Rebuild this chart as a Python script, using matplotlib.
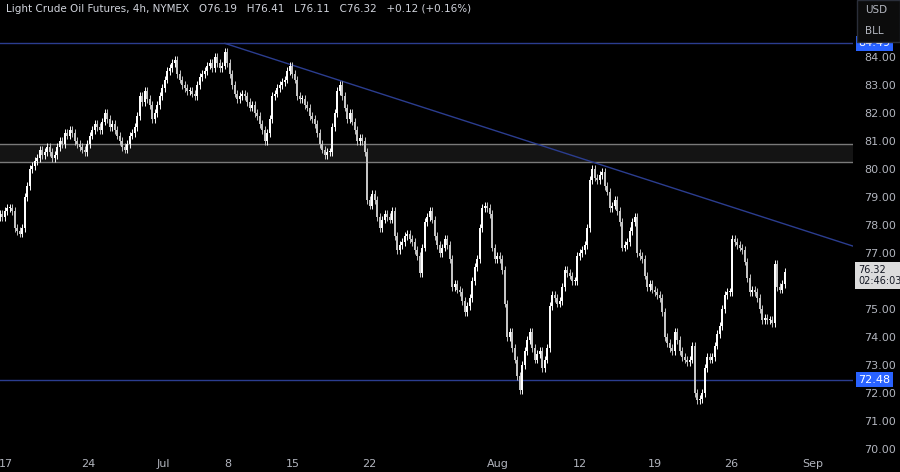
import matplotlib
matplotlib.use("Agg")
import matplotlib.pyplot as plt
from matplotlib.patches import Rectangle

STEP = 2.5
closes = [
78.4,78.3,78.5,78.6,78.6,78.5,77.9,77.8,77.7,77.9,
79.0,79.4,80.0,80.1,80.3,80.4,80.7,80.5,80.6,80.8,
80.6,80.4,80.5,80.8,81.0,80.9,81.3,81.2,81.4,81.3,
81.0,80.9,80.8,80.7,80.6,80.9,81.2,81.4,81.6,81.5,
81.4,81.7,82.0,81.8,81.5,81.6,81.4,81.2,81.0,80.8,
80.7,80.9,81.2,81.3,81.5,81.9,82.6,82.4,82.8,82.5,
82.3,81.8,82.0,82.3,82.6,82.9,83.2,83.5,83.6,83.8,
83.9,83.4,83.2,83.0,82.9,82.8,82.8,82.7,82.6,83.0,
83.3,83.4,83.5,83.7,83.8,83.6,84.0,83.8,83.6,83.7,
84.2,83.8,83.4,83.0,82.7,82.5,82.6,82.7,82.6,82.4,
82.2,82.3,82.0,81.9,81.6,81.4,81.0,81.3,81.8,82.6,
82.7,82.9,83.0,83.1,83.2,83.5,83.7,83.4,83.2,82.6,
82.5,82.5,82.3,82.2,81.9,81.8,81.6,81.3,80.9,80.7,
80.5,80.6,80.6,81.5,82.0,82.8,83.0,82.6,82.2,81.8,
82.0,81.7,81.4,81.0,81.1,81.0,80.6,78.9,78.7,79.1,
78.9,78.3,77.9,78.2,78.4,78.3,78.2,78.5,77.6,77.1,
77.3,77.4,77.6,77.7,77.5,77.4,77.1,76.9,76.3,77.2,
78.1,78.3,78.5,78.2,77.6,77.3,77.0,77.2,77.5,77.3,
76.8,75.8,75.9,75.7,75.6,75.3,74.9,75.1,75.4,76.0,
76.5,76.8,77.9,78.6,78.7,78.6,78.4,77.2,76.8,76.9,
76.8,76.4,75.2,74.0,74.2,73.6,73.2,72.6,72.1,73.0,
73.5,73.9,74.2,73.6,73.2,73.4,73.5,72.9,73.2,73.6,
75.1,75.5,75.4,75.2,75.3,75.8,76.4,76.3,76.2,76.0,
76.0,76.9,77.0,77.1,77.3,77.9,79.6,80.0,79.7,79.6,
79.8,79.9,79.4,79.2,78.6,78.7,78.9,78.5,78.1,77.2,
77.3,77.4,77.8,78.1,78.3,77.0,76.9,76.8,76.2,75.8,
75.9,75.7,75.6,75.5,75.4,74.9,74.0,73.8,73.6,73.5,
74.2,73.9,73.5,73.3,73.2,73.1,73.2,73.7,72.0,71.75,
71.8,72.0,72.9,73.3,73.2,73.3,73.7,74.1,74.4,75.0,
75.5,75.6,75.6,77.5,77.4,77.3,77.2,77.1,76.7,76.1,
75.6,75.7,75.6,75.4,75.0,74.6,74.7,74.6,74.6,74.5,
76.6,75.8,75.7,75.9,76.32]
first_open = 78.3
wick = 0.14

tick_pos = [6, 88, 163, 228, 293, 369, 498, 580, 655, 731, 813]
tick_lbl = ["17", "24", "Jul", "8", "15", "22", "Aug", "12", "19", "26", "Sep"]
price_ticks = [70, 71, 72, 73, 74, 75, 77, 78, 79, 80, 81, 82, 83, 84]
top_level, bottom_level = 84.49, 72.48
zone = (80.25, 80.9)
trend = ((225, 84.49), (853, 77.25))
last_price = 76.32

W, H = 900, 472
fig = plt.figure(figsize=(9, 4.72), dpi=100, facecolor="black")
ax = fig.add_axes([0, 17 / H, 853 / W, 455 / H], facecolor="black")
ax.set_xlim(0, 853)
ax.set_ylim(69.79, 86.04)

ax.add_patch(Rectangle((0, zone[0]), 853, zone[1] - zone[0], color="#141414", lw=0, zorder=1))
for z in zone:
    ax.axhline(z, color="#7a7a7a", lw=1, zorder=2)
ax.axhline(top_level, color="#2b3d8f", lw=1, zorder=2)
ax.axhline(bottom_level, color="#2b3d8f", lw=1, zorder=2)
ax.plot([trend[0][0], trend[1][0]], [trend[0][1], trend[1][1]], color="#2b3d8f", lw=1, zorder=2)

prev = first_open
for i, c in enumerate(closes):
    o = prev
    x = i * STEP
    hi = max(o, c) + wick
    lo = min(o, c) - wick
    col = "#ffffff" if c >= o else "#c4c4c4"
    ax.vlines(x, lo, hi, color=col, lw=0.7, zorder=3)
    b = max(abs(c - o), 0.03)
    ax.add_patch(Rectangle((x - 1.0, min(o, c)), 2.0, b, color=col, lw=0, zorder=4))
    prev = c

for s in ax.spines.values():
    s.set_visible(False)
ax.set_xticks(tick_pos)
ax.set_xticklabels(tick_lbl)
ax.tick_params(axis="x", length=0, colors="#b2b5be", labelsize=8, pad=3)
ax.yaxis.tick_right()
ax.set_yticks(price_ticks)
ax.set_yticklabels([f"{p:.2f}" for p in price_ticks])
ax.tick_params(axis="y", length=0, colors="#b2b5be", labelsize=8, pad=8)

def tag(price, txt, fc, tc):
    ax.text(858.5, price, txt, transform=ax.transData, fontsize=8, color=tc, va="center",
            ha="left", clip_on=False, zorder=10,
            bbox=dict(boxstyle="square,pad=0.25", fc=fc, ec="none"))

tag(bottom_level, f"{bottom_level:.2f}", "#2962ff", "white")
tag(top_level, f"{top_level:.2f}", "#2962ff", "white")
ax.text(858, last_price - 0.12, f"{last_price:.2f}\n02:46:03", fontsize=7, color="#131722", va="center",
        ha="left", clip_on=False, zorder=10, linespacing=1.1,
        bbox=dict(boxstyle="square,pad=0.3", fc="#dcdcdc", ec="none"))

fig.patches.append(Rectangle((857 / W, 430 / H), 43 / W, 42 / H, transform=fig.transFigure,
                             fc="#0c0c0c", ec="#2a2e39", lw=1, zorder=20))
fig.text(865 / W, 462 / H, "USD", color="#b2b5be", fontsize=7.5, va="center", zorder=21)
fig.text(865 / W, 441 / H, "BLL", color="#b2b5be", fontsize=7.5, va="center", zorder=21)

fig.text(6 / W, 463 / H, "Light Crude Oil Futures, 4h, NYMEX   O76.19   H76.41   L76.11   C76.32   +0.12 (+0.16%)",
         color="#d1d4dc", fontsize=7.5, va="center")

fig.savefig("out.png", dpi=100, facecolor="black")
